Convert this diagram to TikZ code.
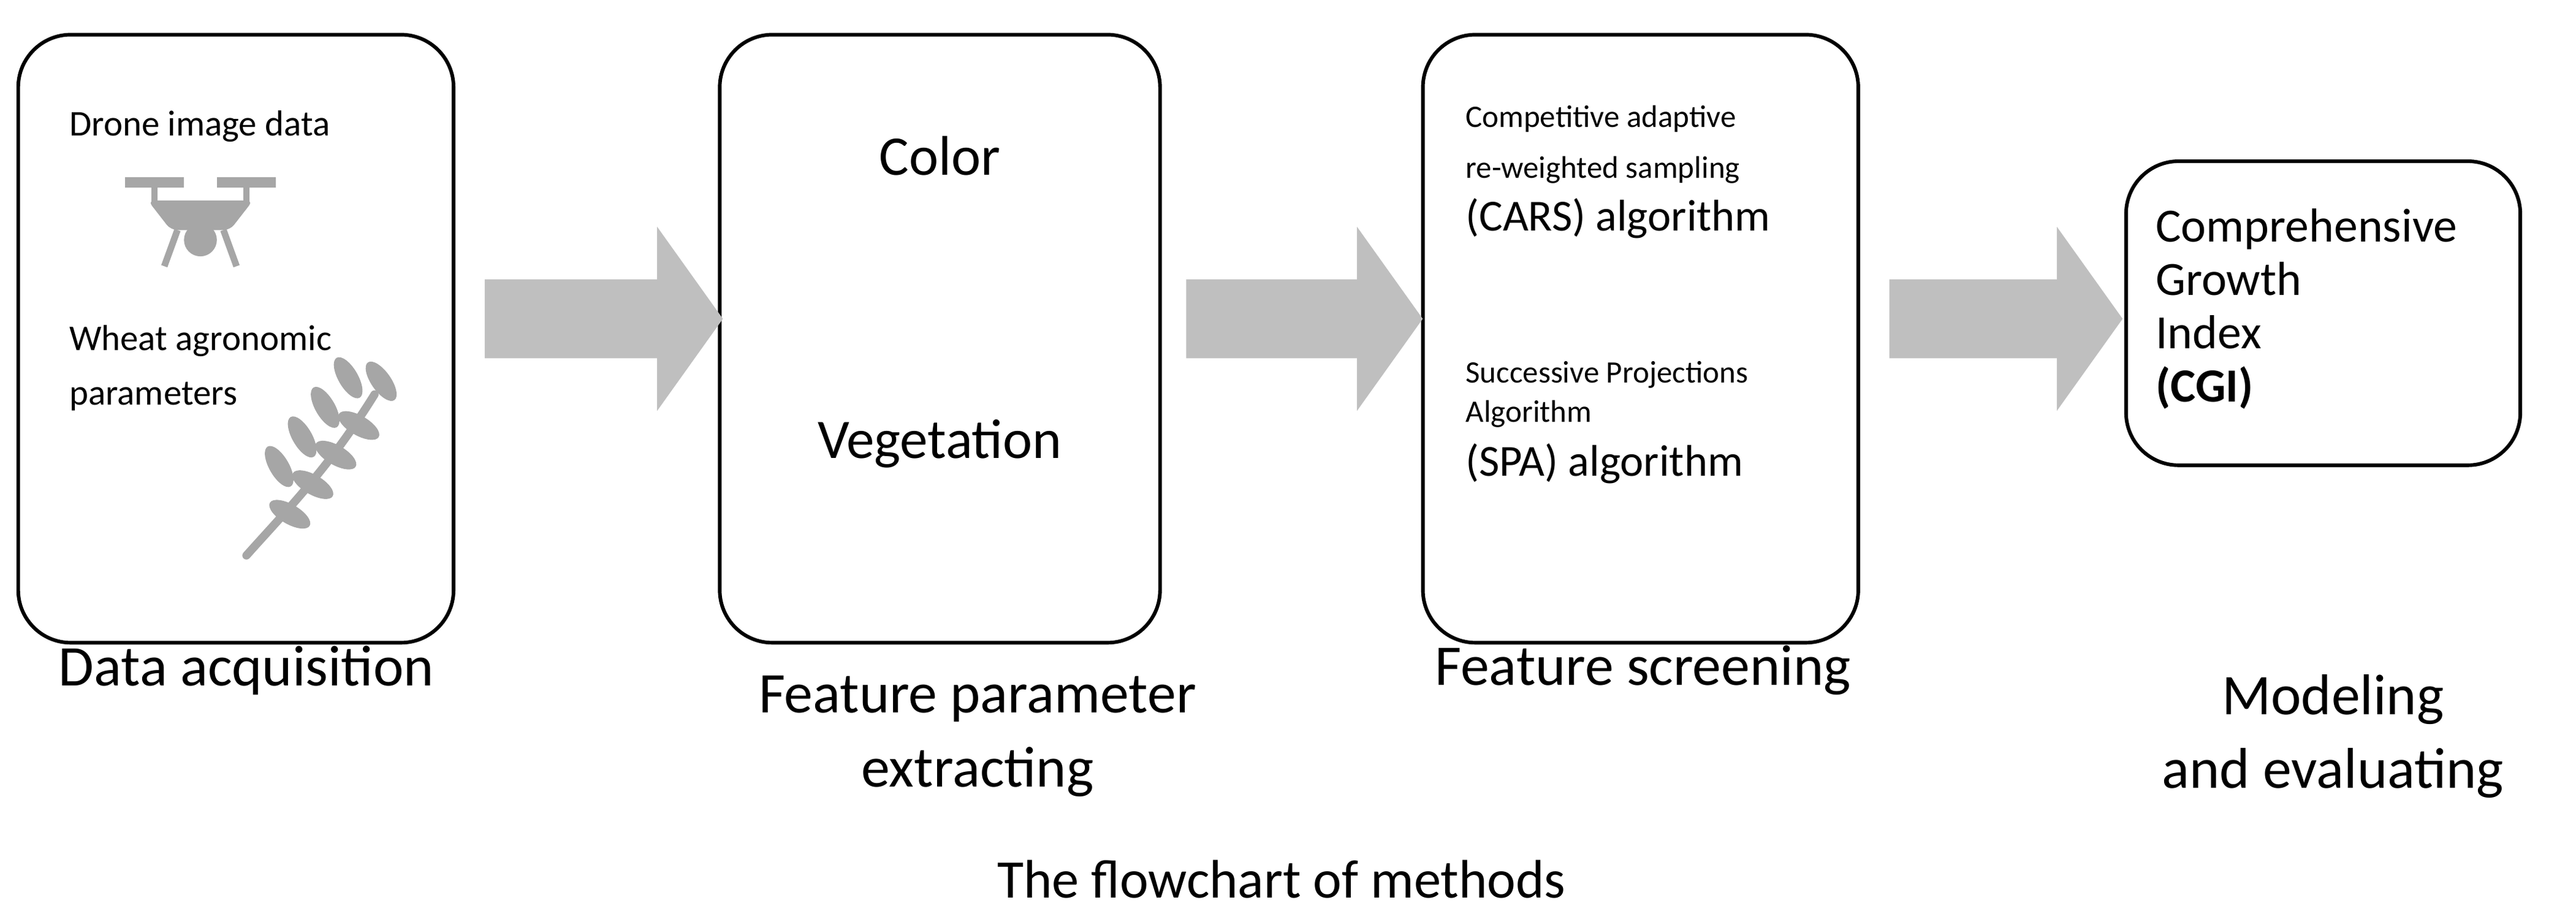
\documentclass[tikz,border=0pt]{standalone}
\usepackage{fontspec}
\setmainfont{Carlito}
\usetikzlibrary{positioning}
\definecolor{arrowgray}{HTML}{BFBFBF}
\definecolor{icongray}{HTML}{A6A6A6}
\tikzset{
  stage/.style={draw, line width=2.2pt, rounded corners=32pt, anchor=north west},
  caption/.style={font=\fontsize{35}{45}\selectfont, align=center},
  inbox/.style={anchor=west, inner sep=0pt},
}
% block arrow from x=#1 to tip x=#2 at height y=#3
\newcommand{\blockarrow}[3]{%
  \fill[arrowgray] (#1,#3-24) -- ({#2-40},#3-24) -- ({#2-40},#3-56) -- (#2,#3)
    -- ({#2-40},#3+56) -- ({#2-40},#3+24) -- (#1,#3+24) -- cycle;}
\begin{document}
\begin{tikzpicture}[x=1pt, y=-1pt]
\useasboundingbox (0,0) rectangle (1568,559);
% stages
\node[stage, minimum width=265pt, minimum height=370pt] (acq) at (10,20) {};
\node[stage, minimum width=268pt, minimum height=370pt] (feat) at (437,20) {};
\node[stage, minimum width=265pt, minimum height=370pt] (scr) at (865,20) {};
\node[stage, minimum width=240pt, minimum height=185pt] (cgi) at (1293,97) {};
% arrows
\blockarrow{295}{440}{194}
\blockarrow{722}{866}{194}
\blockarrow{1150}{1292}{194}
% data acquisition
\node[inbox, font=\fontsize{22}{33}\selectfont] (drone) at (42,77) {Drone image data};
\node[inbox, font=\fontsize{22}{33}\selectfont, align=left] (wheat) at (42,224) {Wheat agronomic\\parameters};
% drone icon
\begin{scope}[icongray]
  \fill (76,108) rectangle (112,114);
  \fill (132,108) rectangle (168,114);
  \fill (92,114) rectangle (96,124);
  \fill (148,114) rectangle (152,124);
  \fill[rounded corners=4pt] (90,122) -- (154,122) -- (140,140) -- (104,140) -- cycle;
  \fill (122,146) circle (10pt);
  \draw[line width=4pt] (108,140) -- (100,162);
  \draw[line width=4pt] (136,140) -- (144,162);
\end{scope}
% wheat icon
\begin{scope}[icongray]
  \draw[line width=5pt, line cap=round] (150,338) .. controls (175,310) and (200,285) .. (228,240);
  \foreach \x/\y in {170/300,184/282,198/264,212/246}{
    \fill[rotate around={-60:(\x,\y)}] (\x-14,\y-8) ellipse (14pt and 6pt);
    \fill[rotate around={-30:(\x,\y)}] (\x+12,\y+8) ellipse (14pt and 6pt);
  }
  \fill[rotate around={-55:(232,232)}] (232,232) ellipse (14pt and 6pt);
\end{scope}
% feature extracting
\node[font=\fontsize{34}{40}\selectfont] (color) at (572,95) {Color};
\node[font=\fontsize{34}{40}\selectfont] (veg) at (572,270) {Vegetation};
% screening
\node[inbox, font=\fontsize{19}{31}\selectfont, align=left] (carsa) at (892,88) {Competitive adaptive\\re-weighted sampling};
\node[inbox, font=\fontsize{27}{32}\selectfont] (cars) at (892,133) {(CARS) algorithm};
\node[inbox, font=\fontsize{19}{24}\selectfont, align=left] (spaa) at (892,240) {Successive Projections\\Algorithm};
\node[inbox, font=\fontsize{27}{32}\selectfont] (spa) at (892,282) {(SPA) algorithm};
% CGI
\node[inbox, font=\fontsize{29}{32.5}\selectfont, align=left] (cgitxt) at (1312,188) {Comprehensive\\Growth\\Index\\\textbf{(CGI)}};
% captions
\node[caption] (capa) at (150,408) {Data acquisition};
\node[caption] (capb) at (595,448) {Feature parameter\\extracting};
\node[caption] (capc) at (1000,408) {Feature screening};
\node[caption] (capd) at (1420,448) {Modeling\\and evaluating};
\node[caption, font=\fontsize{33}{40}\selectfont] (title) at (780,535) {The flowchart of methods};
\end{tikzpicture}
\end{document}
